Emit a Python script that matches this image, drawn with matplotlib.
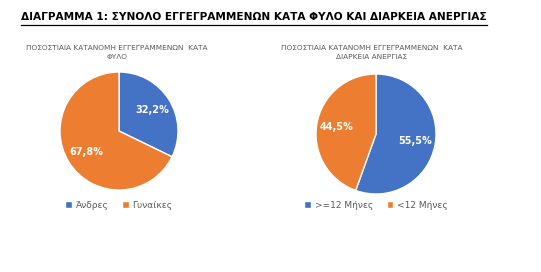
import matplotlib.pyplot as plt
from matplotlib.lines import Line2D

# data
title = "ΔΙΑΓΡΑΜΜΑ 1: ΣΥΝΟΛΟ ΕΓΓΕΓΡΑΜΜΕΝΩΝ ΚΑΤΑ ΦΥΛΟ ΚΑΙ ΔΙΑΡΚΕΙΑ ΑΝΕΡΓΙΑΣ"
sub_left = "ΠΟΣΟΣΤΙΑΙΑ ΚΑΤΑΝΟΜΗ ΕΓΓΕΓΡΑΜΜΕΝΩΝ  ΚΑΤΑ\nΦΥΛΟ"
sub_right = "ΠΟΣΟΣΤΙΑΙΑ ΚΑΤΑΝΟΜΗ ΕΓΓΕΓΡΑΜΜΕΝΩΝ  ΚΑΤΑ\nΔΙΑΡΚΕΙΑ ΑΝΕΡΓΙΑΣ"
sex_labels = ["Άνδρες", "Γυναίκες"]
sex_values = [32.2, 67.8]
dur_labels = [">=12 Μήνες", "<12 Μήνες"]
dur_values = [55.5, 44.5]
colors = ["#4472C4", "#ED7D31"]

W, H = 541, 272
fig = plt.figure(figsize=(W / 100, H / 100), dpi=100)
fig.patch.set_facecolor("white")


def px_axes(cx, cy, r):
    # axes square around a centre given in pixels (y from top)
    return fig.add_axes([(cx - r) / W, 1 - (cy + r) / H, 2 * r / W, 2 * r / H])


def fmt(p):
    return f"{p:.1f}%".replace(".", ",")


def draw_pie(cx, cy, r, vals, labels, sub, sub_x, leg_y):
    ax = px_axes(cx, cy, r)
    wedges, _, autotexts = ax.pie(vals, colors=colors, startangle=90, counterclock=False,
                                  autopct=fmt, pctdistance=0.66, radius=1.0,
                                  wedgeprops=dict(edgecolor="white", linewidth=1.0))
    for t in autotexts:
        t.set_color("white")
        t.set_fontsize(7)
        t.set_fontweight("bold")
    ax.set_xlim(-1, 1)
    ax.set_ylim(-1, 1)
    ax.set_aspect("equal")
    fig.text(sub_x / W, 1 - 52.5 / H, sub, ha="center", va="center",
             fontsize=5.3, color="#595959", linespacing=1.75)
    fig.legend(wedges, labels, loc="center", bbox_to_anchor=(cx / W, 1 - leg_y / H),
               ncol=2, frameon=False, fontsize=6.5, handlelength=0.75, handleheight=0.75,
               handletextpad=0.4, columnspacing=1.5, labelcolor="#595959")


draw_pie(119, 131, 59, sex_values, sex_labels, sub_left, 117, 205)
draw_pie(376, 134, 60, dur_values, dur_labels, sub_right, 372, 205)

t = fig.text(21 / W, 1 - 17 / H, title, ha="left", va="center",
             fontsize=7.6, fontweight="bold", color="black")
fig.canvas.draw()
bb = t.get_window_extent()
fig.add_artist(Line2D([bb.x0 / W, bb.x1 / W], [(bb.y0 - 2.5) / H] * 2,
                      transform=fig.transFigure, color="black", linewidth=0.9))

plt.savefig("out.png", dpi=100)
